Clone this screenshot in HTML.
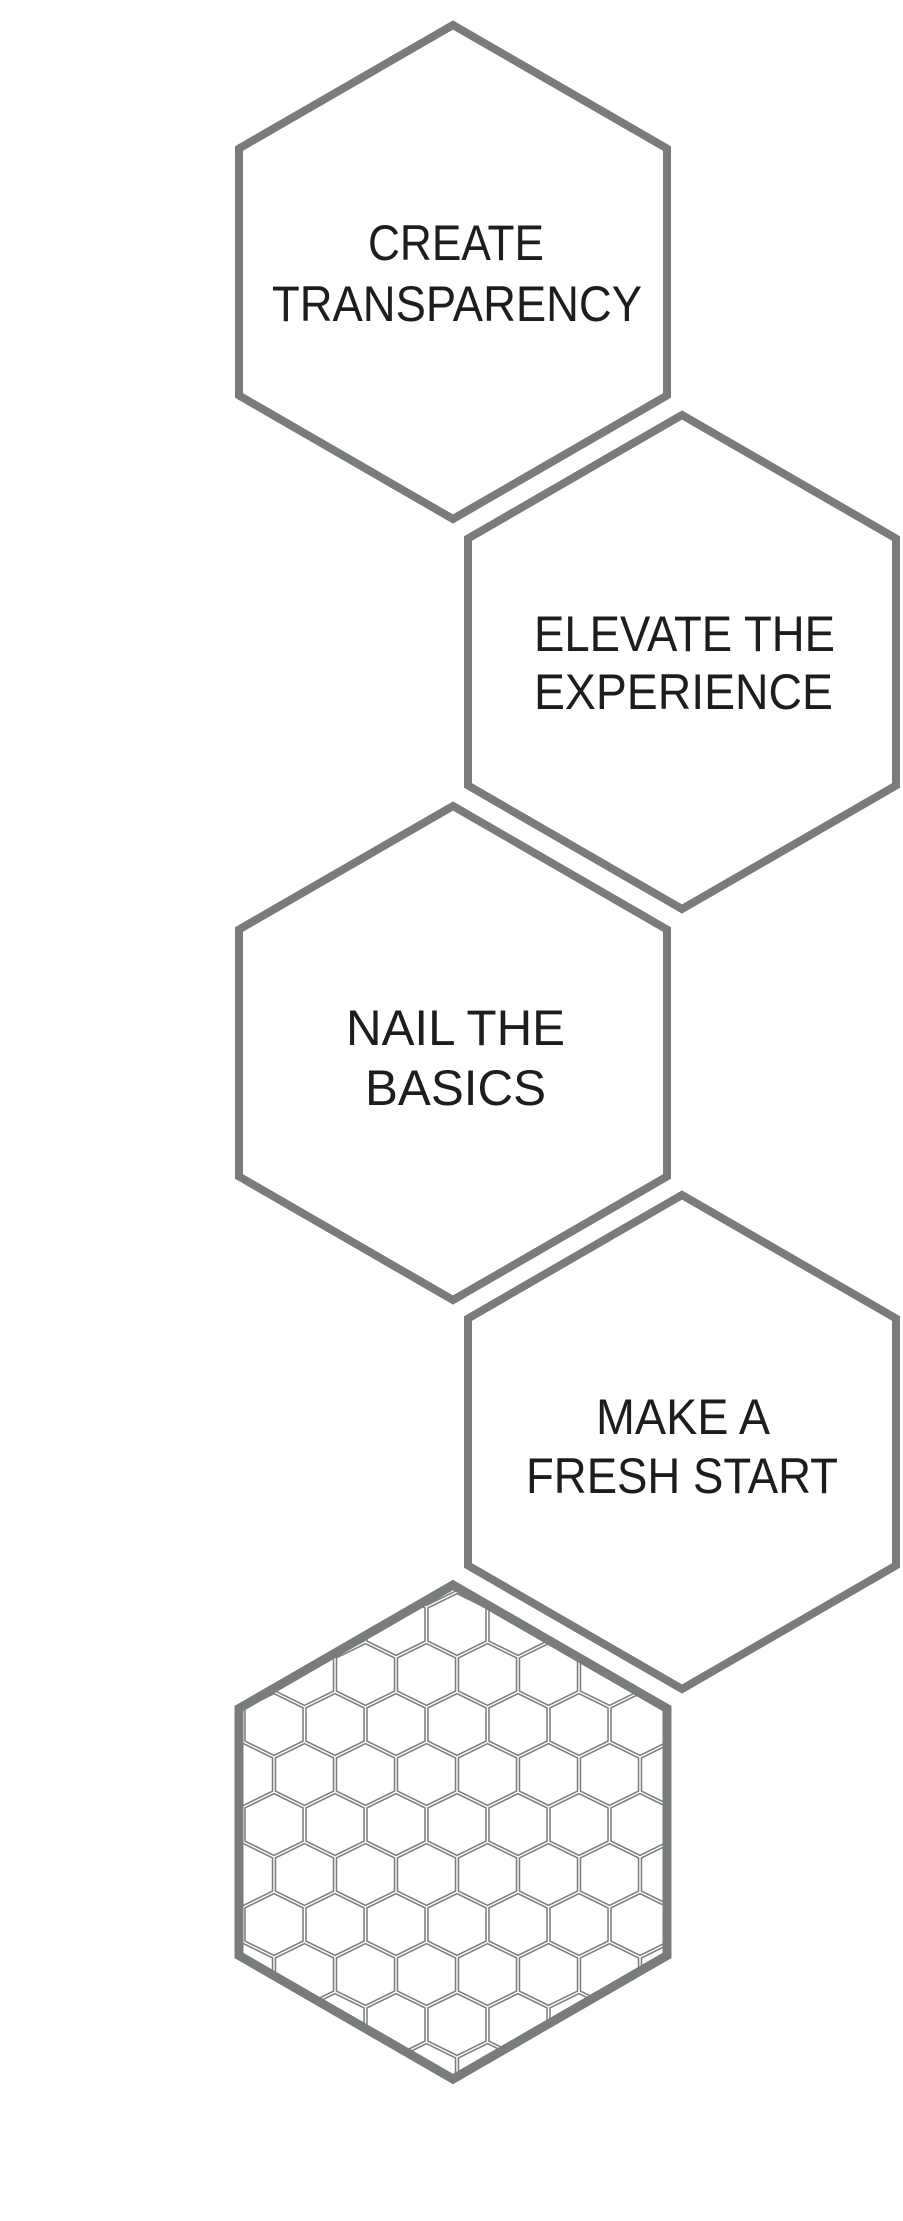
<!DOCTYPE html>
<html><head><meta charset="utf-8"><style>
html,body{margin:0;padding:0;background:#fff;}
svg{display:block;}
text{font-family:"Liberation Sans",sans-serif;font-size:50px;fill:#1d1d1b;}
</style></head><body>
<svg width="903" height="2221" viewBox="0 0 903 2221" xmlns="http://www.w3.org/2000/svg">
<defs>
<pattern id="hc" patternUnits="userSpaceOnUse" x="457" y="1724.5" width="61" height="100">
<g fill="none" stroke-linejoin="miter">
<path id="hp" d="M30.5,-1 V17.5 M0,32.5 L30.5,17.5 L61,32.5 M0,32.5 V67.5 M61,32.5 V67.5 M0,67.5 L30.5,82.5 L61,67.5 M30.5,82.5 V101" stroke="#7a7e7d" stroke-width="4.5"/>
<path d="M30.5,-1 V17.5 M0,32.5 L30.5,17.5 L61,32.5 M0,32.5 V67.5 M61,32.5 V67.5 M0,67.5 L30.5,82.5 L61,67.5 M30.5,82.5 V101" stroke="#fff" stroke-width="1.4"/>
</g>
</pattern>
</defs>
<g fill="none" stroke="#787c7b" stroke-width="8">
<polygon points="453,25 667,148.5 667,395.5 453,519 239,395.5 239,148.5"/>
<polygon points="682,415 896,538.5 896,785.5 682,909 468,785.5 468,538.5"/>
<polygon points="453,806 667,929.5 667,1176.5 453,1300 239,1176.5 239,929.5"/>
<polygon points="682,1195 896,1318.5 896,1565.5 682,1689 468,1565.5 468,1318.5"/>
</g>
<polygon points="453,1585 667,1708.5 667,1955.5 453,2079 239,1955.5 239,1708.5" fill="url(#hc)" stroke="#787c7b" stroke-width="9"/>
<text x="368" y="260" textLength="176" lengthAdjust="spacingAndGlyphs">CREATE</text>
<text x="272" y="321" textLength="370" lengthAdjust="spacingAndGlyphs">TRANSPARENCY</text>
<text x="534" y="651" textLength="301" lengthAdjust="spacingAndGlyphs">ELEVATE THE</text>
<text x="534" y="709" textLength="299" lengthAdjust="spacingAndGlyphs">EXPERIENCE</text>
<text x="346" y="1045" textLength="219" lengthAdjust="spacingAndGlyphs">NAIL THE</text>
<text x="365" y="1105" textLength="181" lengthAdjust="spacingAndGlyphs">BASICS</text>
<text x="596" y="1434" textLength="174" lengthAdjust="spacingAndGlyphs">MAKE A</text>
<text x="526" y="1493" textLength="312" lengthAdjust="spacingAndGlyphs">FRESH START</text>
</svg>
</body></html>
